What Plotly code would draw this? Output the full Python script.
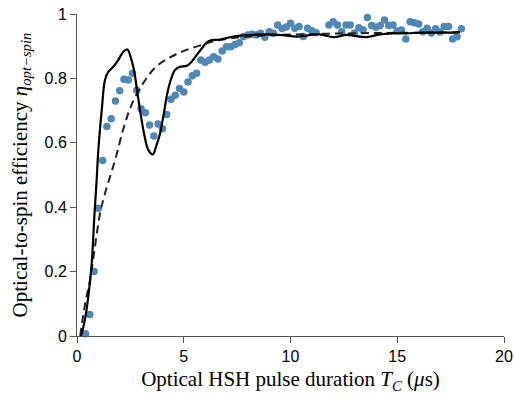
import plotly.graph_objects as go

# Measured data (blue dots)
meas_t = [0.4, 0.6, 0.8, 1.0, 1.2, 1.4, 1.6, 1.8, 2.0, 2.2, 2.4, 2.6, 2.8, 3.0, 3.2, 3.4, 3.6, 3.8,
          4.0, 4.2, 4.4, 4.6, 4.8, 5.0, 5.2, 5.4, 5.6, 5.8, 6.0, 6.2, 6.4, 6.6, 6.8, 7.0, 7.2, 7.4,
          7.6, 7.8, 8.0, 8.2, 8.4, 8.6, 8.8, 9.0, 9.2, 9.4, 9.6, 9.8, 10.0, 10.2, 10.4, 10.6, 10.8,
          11.0, 11.2, 11.8, 12.0, 12.2, 12.4, 12.6, 12.8, 13.0, 13.2, 13.4, 13.6, 13.8, 14.0,
          14.2, 14.4, 14.6, 14.8, 15.0, 15.2, 15.4, 15.6, 15.8, 16.0, 16.2, 16.4, 16.6, 16.8, 17.0,
          17.2, 17.4, 17.6, 17.8, 18.0]
meas_eta = [0.007, 0.067, 0.200, 0.397, 0.545, 0.651, 0.675, 0.730, 0.762, 0.797, 0.795, 0.816,
            0.763, 0.706, 0.693, 0.655, 0.621, 0.658, 0.644, 0.688, 0.735, 0.748, 0.769, 0.758,
            0.789, 0.808, 0.816, 0.857, 0.850, 0.857, 0.867, 0.860, 0.885, 0.898, 0.898, 0.905,
            0.911, 0.930, 0.935, 0.937, 0.935, 0.940, 0.928, 0.945, 0.940, 0.966, 0.955, 0.960,
            0.971, 0.956, 0.961, 0.930, 0.956, 0.948, 0.942, 0.966, 0.976, 0.966, 0.945, 0.966,
            0.966, 0.941, 0.957, 0.950, 0.989, 0.964, 0.959, 0.964, 0.981, 0.964, 0.966, 0.947,
            0.950, 0.922, 0.976, 0.973, 0.969, 0.945, 0.956, 0.941, 0.954, 0.944, 0.961, 0.961,
            0.922, 0.929, 0.954]

# Simulation (solid line)
sim_t = [0.19, 0.37, 0.53, 0.69, 0.82, 0.92, 1.0, 1.16, 1.31, 1.47, 1.70, 1.93, 2.17, 2.36, 2.51,
         2.67, 2.79, 2.95, 3.14, 3.34, 3.55, 3.70, 3.89, 4.07, 4.23, 4.39, 4.59, 4.82, 5.14, 5.37,
         5.61, 5.84, 6.07, 6.31, 6.62, 7.32, 8.1, 8.89, 9.66, 10.29, 10.76, 11.38, 12.0, 12.63,
         13.0, 13.57, 14.19, 14.81, 15.44, 16.07, 16.69, 17.32, 17.94]
sim_eta = [0.0, 0.05, 0.122, 0.226, 0.38, 0.484, 0.578, 0.702, 0.795, 0.821, 0.836, 0.857, 0.883,
           0.890, 0.867, 0.826, 0.774, 0.702, 0.629, 0.578, 0.564, 0.588, 0.629, 0.692, 0.754,
           0.795, 0.826, 0.836, 0.839, 0.852, 0.873, 0.893, 0.911, 0.919, 0.920, 0.930, 0.935,
           0.937, 0.934, 0.930, 0.933, 0.937, 0.928, 0.935, 0.932, 0.928, 0.937, 0.940, 0.940,
           0.942, 0.942, 0.942, 0.944]

# Model (dashed line)
mod_t = [0.15, 0.37, 0.61, 0.84, 1.08, 1.3, 1.8, 2.2, 2.6, 3.2, 3.7, 4.4, 5.1, 5.9, 6.5, 7.5,
         8.5, 10.0, 12.0, 14.0, 16.0, 18.0]
mod_eta = [0.0, 0.096, 0.174, 0.277, 0.381, 0.44, 0.55, 0.65, 0.725, 0.795, 0.836, 0.867, 0.888,
           0.905, 0.917, 0.927, 0.932, 0.936, 0.939, 0.941, 0.942, 0.943]

x_ticks = [0, 5, 10, 15, 20]
y_ticks = [0, 0.2, 0.4, 0.6, 0.8, 1]
y_tick_text = ["0", "0.2", "0.4", "0.6", "0.8", "1"]

fig = go.Figure()
fig.add_trace(go.Scatter(x=meas_t, y=meas_eta, mode="markers",
                         marker=dict(color="#4f87b7", size=7.5, line=dict(width=0)),
                         cliponaxis=False, showlegend=False))
fig.add_trace(go.Scatter(x=mod_t, y=mod_eta, mode="lines", line_shape="spline",
                         line=dict(color="#222222", width=2, dash="8px,5px"),
                         cliponaxis=False, showlegend=False))
fig.add_trace(go.Scatter(x=sim_t, y=sim_eta, mode="lines", line_shape="spline",
                         line=dict(color="black", width=2.2),
                         cliponaxis=False, showlegend=False))

axis_common = dict(showgrid=False, zeroline=False, showline=True, linecolor="#555555",
                   linewidth=1, ticks="outside", ticklen=6, tickcolor="#555555", automargin=False,
                   tickfont=dict(family="Liberation Sans, Arial, sans-serif", size=16, color="black"))

title_font = dict(family="Liberation Serif, Times New Roman, serif", size=21, color="black")

fig.update_xaxes(range=[0, 20], tickvals=x_ticks, ticktext=[str(v) for v in x_ticks],
                 title=dict(text="Optical HSH pulse duration <i>T</i><sub><i>C</i></sub> (<i>μ</i>s)",
                            font=title_font, standoff=7),
                 **axis_common)
fig.update_yaxes(range=[0, 1], tickvals=y_ticks, ticktext=y_tick_text,
                 title=dict(text="Optical-to-spin efficiency <i>η</i><sub><i>opt−spin</i></sub>",
                            font=title_font, standoff=11),
                 **axis_common)

fig.update_layout(width=515, height=396, margin=dict(l=77, r=11, t=14, b=60),
                  plot_bgcolor="white", paper_bgcolor="white")

fig.write_html("out.html")
